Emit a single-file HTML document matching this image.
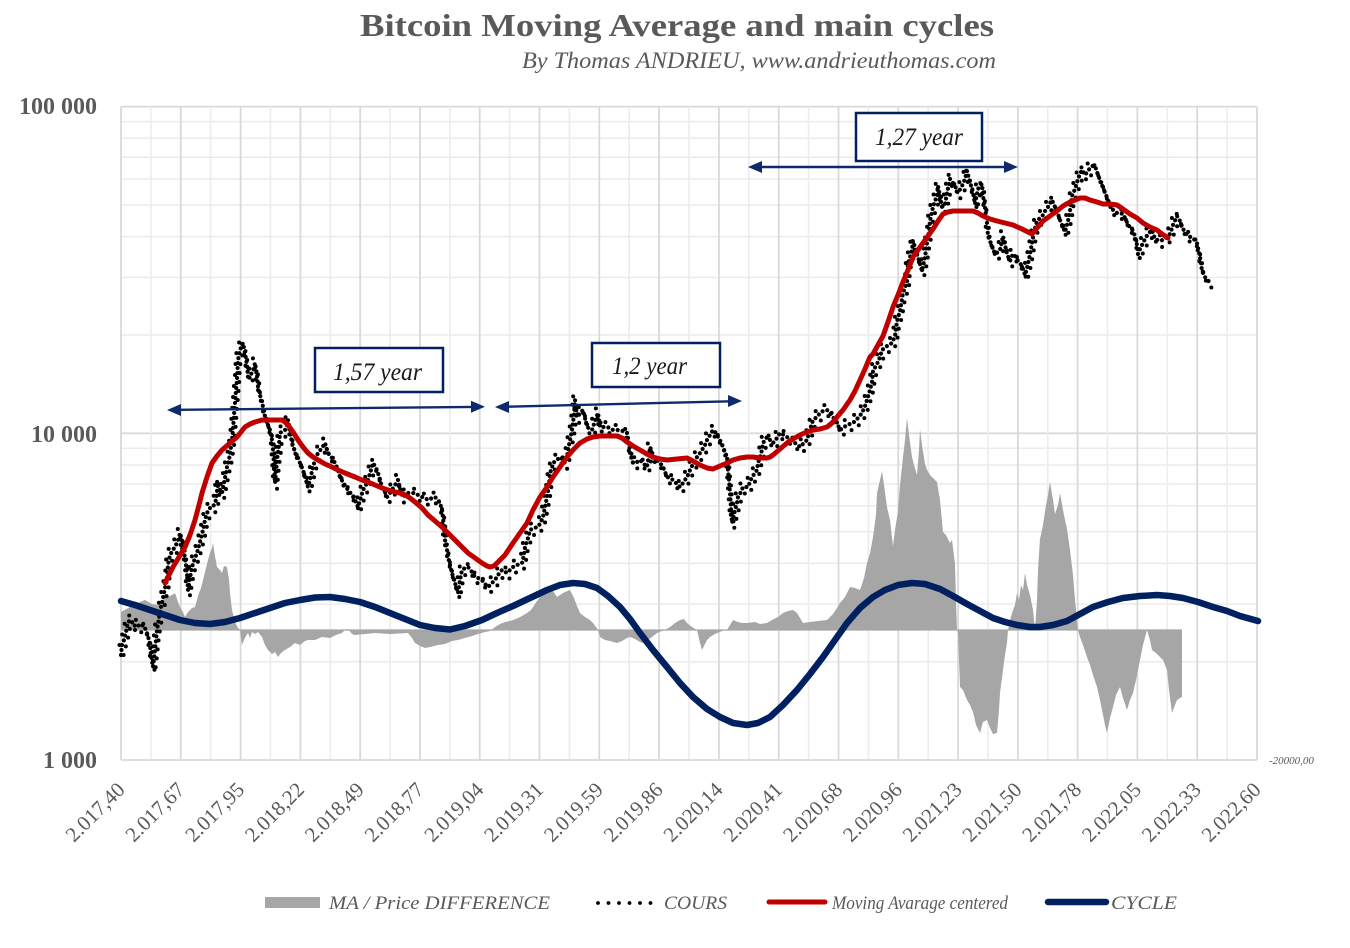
<!DOCTYPE html>
<html><head><meta charset="utf-8"><style>
html,body{margin:0;padding:0;background:#fff;}
svg{display:block;}
text{font-family:"Liberation Serif","DejaVu Serif",serif;}
</style></head><body>
<svg width="1350" height="948" viewBox="0 0 1350 948" xmlns="http://www.w3.org/2000/svg">
<defs>
<polyline id="cours" fill="none" points="121,655 122,645 124,640 126,632 128,622 131,620 134,626 137,624 140,627 143,625 146,630 148,636 150,645 151,655 153,667 155,650 157,630 159,618 161,607 163,598 165,588 167,580 168,565 170,555 173,550 176,545 179,538 180,533 182,540 183,547 185,558 187,573 188,590 190,578 192,567 195,558 197,553 200,542 203,530 205,520 207,513 210,508 213,507 216,500 218,483 220,490 222,493 225,478 227,467 229,460 230,453 232,440 233,430 234,415 235,403 236,390 237,380 238,360 240,350 243,343 245,353 247,365 248,377 250,375 252,373 254,368 255,363 257,375 258,387 260,395 262,403 264,410 265,417 268,425 270,430 272,440 273,450 274,465 275,483 276,472 277,460 279,445 280,433 283,431 285,430 287,425 288,420 290,432 292,443 294,448 295,453 298,458 300,463 303,470 305,477 308,487 310,480 313,467 315,460 318,453 322,448 325,443 328,453 332,458 335,463 338,470 340,477 344,484 348,490 352,495 355,500 358,507 361,497 363,490 366,485 368,480 371,470 373,463 376,468 378,473 380,480 382,487 385,492 387,497 390,493 392,490 395,485 398,480 400,488 402,497 405,495 408,493 412,493 415,493 418,495 422,497 425,498 428,500 432,498 435,497 438,500 440,503 442,510 443,517 444,528 445,540 447,550 448,557 450,565 452,573 454,580 455,583 457,590 458,593 460,580 462,570 465,568 468,567 472,572 475,577 478,578 482,580 485,584 488,587 492,583 495,580 498,575 502,570 507,573 510,570 513,567 517,565 522,563 524,555 525,547 528,538 530,530 534,528 538,527 541,522 543,517 545,507 547,497 549,485 550,473 552,468 553,463 557,460 560,457 563,460 565,463 567,457 568,450 570,440 572,430 574,415 575,400 576,408 577,417 579,415 580,413 582,411 583,410 585,418 587,427 590,429 592,430 595,421 598,413 599,420 600,427 604,427 607,427 610,428 613,430 617,430 620,430 623,431 627,433 629,443 630,453 632,460 633,463 637,462 640,460 643,463 647,467 649,455 650,447 652,452 653,457 657,460 660,463 663,467 665,472 667,477 670,478 673,480 677,484 680,487 683,483 685,480 688,475 690,470 693,464 697,457 700,453 702,450 705,445 707,440 710,435 713,430 716,433 718,437 721,442 723,447 725,452 727,457 728,470 729,480 730,493 731,508 732,523 734,515 735,510 737,503 738,497 741,492 743,487 746,487 748,487 750,482 752,477 755,473 757,470 758,463 760,457 762,450 763,443 765,440 767,437 770,440 773,443 777,438 780,433 784,435 787,437 791,440 795,443 798,445 800,447 804,443 807,440 810,430 813,420 817,417 820,413 823,411 827,410 830,413 833,417 837,423 840,430 847,425 853,423 858,418 862,413 865,406 867,400 870,390 872,382 873,371 877,364 880,357 882,350 887,346 892,343 895,336 897,321 900,311 903,293 907,282 908,264 910,257 912,250 913,241 915,247 917,254 920,264 922,271 925,257 927,243 929,232 930,221 933,207 935,201 937,196 938,186 940,196 942,207 945,204 947,193 950,179 953,183 955,186 958,193 962,186 965,179 967,171 970,182 973,193 975,204 978,189 980,186 982,184 983,196 985,207 987,223 988,236 990,241 992,246 995,254 998,252 1000,250 1003,236 1005,245 1007,254 1010,261 1013,254 1016,257 1018,261 1020,263 1022,266 1025,275 1027,268 1028,264 1030,254 1032,243 1034,232 1037,221 1040,218 1043,215 1045,211 1048,207 1050,203 1052,200 1055,207 1058,214 1060,220 1062,225 1065,232 1068,221 1070,211 1072,196 1075,189 1078,179 1080,174 1082,170 1085,175 1088,171 1090,168 1092,166 1095,166 1098,175 1100,180 1102,184 1105,193 1108,200 1110,205 1112,209 1117,213 1120,213 1123,214 1126,220 1128,225 1132,229 1135,236 1137,245 1138,254 1140,249 1142,245 1145,239 1148,234 1150,232 1152,230 1155,239 1160,241 1165,239 1168,236 1170,234 1173,225 1177,216 1180,221 1183,229 1188,236 1193,238 1197,243 1200,257 1202,271 1205,277 1207,280 1210,282"/>
</defs>
<rect width="1350" height="948" fill="#fff"/>
<!-- title -->
<text x="360" y="36" font-size="32" font-weight="bold" fill="#595959" textLength="634" lengthAdjust="spacingAndGlyphs">Bitcoin Moving Average and main cycles</text>
<text x="522" y="68" font-size="23" font-style="italic" fill="#595959" textLength="474" lengthAdjust="spacingAndGlyphs">By Thomas ANDRIEU, www.andrieuthomas.com</text>

<!-- horizontal grid -->
<g stroke="#ebebeb" stroke-width="1.5">
<line x1="121" x2="1257" y1="661.7" y2="661.7"/><line x1="121" x2="1257" y1="604.1" y2="604.1"/>
<line x1="121" x2="1257" y1="563.3" y2="563.3"/><line x1="121" x2="1257" y1="531.7" y2="531.7"/>
<line x1="121" x2="1257" y1="505.8" y2="505.8"/><line x1="121" x2="1257" y1="483.9" y2="483.9"/>
<line x1="121" x2="1257" y1="465" y2="465"/><line x1="121" x2="1257" y1="448.3" y2="448.3"/>
<line x1="121" x2="1257" y1="335" y2="335"/><line x1="121" x2="1257" y1="277.4" y2="277.4"/>
<line x1="121" x2="1257" y1="236.6" y2="236.6"/><line x1="121" x2="1257" y1="205" y2="205"/>
<line x1="121" x2="1257" y1="179.1" y2="179.1"/><line x1="121" x2="1257" y1="157.2" y2="157.2"/>
<line x1="121" x2="1257" y1="138.3" y2="138.3"/><line x1="121" x2="1257" y1="121.6" y2="121.6"/>
</g>
<g stroke="#dadada" stroke-width="1.8">
<line x1="121" x2="1257" y1="433.3" y2="433.3"/>
<line x1="121" x2="1257" y1="106.6" y2="106.6"/>
</g>
<!-- vertical minor grid -->
<g stroke="#ececec" stroke-width="1.6">
<line y1="106.6" y2="760" x1="150.9" x2="150.9"/><line y1="106.6" y2="760" x1="210.7" x2="210.7"/>
<line y1="106.6" y2="760" x1="270.5" x2="270.5"/><line y1="106.6" y2="760" x1="330.3" x2="330.3"/>
<line y1="106.6" y2="760" x1="390.1" x2="390.1"/><line y1="106.6" y2="760" x1="449.9" x2="449.9"/>
<line y1="106.6" y2="760" x1="509.6" x2="509.6"/><line y1="106.6" y2="760" x1="569.4" x2="569.4"/>
<line y1="106.6" y2="760" x1="629.2" x2="629.2"/><line y1="106.6" y2="760" x1="689" x2="689"/>
<line y1="106.6" y2="760" x1="748.8" x2="748.8"/><line y1="106.6" y2="760" x1="808.6" x2="808.6"/>
<line y1="106.6" y2="760" x1="868.4" x2="868.4"/><line y1="106.6" y2="760" x1="928.2" x2="928.2"/>
<line y1="106.6" y2="760" x1="988" x2="988"/><line y1="106.6" y2="760" x1="1047.8" x2="1047.8"/>
<line y1="106.6" y2="760" x1="1107.5" x2="1107.5"/><line y1="106.6" y2="760" x1="1167.3" x2="1167.3"/>
<line y1="106.6" y2="760" x1="1227.1" x2="1227.1"/>
</g>
<!-- vertical major grid -->
<g stroke="#d9d9d9" stroke-width="1.8">
<line y1="106.6" y2="760" x1="121" x2="121"/><line y1="106.6" y2="760" x1="180.8" x2="180.8"/>
<line y1="106.6" y2="760" x1="240.6" x2="240.6"/><line y1="106.6" y2="760" x1="300.4" x2="300.4"/>
<line y1="106.6" y2="760" x1="360.2" x2="360.2"/><line y1="106.6" y2="760" x1="420" x2="420"/>
<line y1="106.6" y2="760" x1="479.7" x2="479.7"/><line y1="106.6" y2="760" x1="539.5" x2="539.5"/>
<line y1="106.6" y2="760" x1="599.3" x2="599.3"/><line y1="106.6" y2="760" x1="659.1" x2="659.1"/>
<line y1="106.6" y2="760" x1="718.9" x2="718.9"/><line y1="106.6" y2="760" x1="778.7" x2="778.7"/>
<line y1="106.6" y2="760" x1="838.5" x2="838.5"/><line y1="106.6" y2="760" x1="898.3" x2="898.3"/>
<line y1="106.6" y2="760" x1="958.1" x2="958.1"/><line y1="106.6" y2="760" x1="1017.9" x2="1017.9"/>
<line y1="106.6" y2="760" x1="1077.6" x2="1077.6"/><line y1="106.6" y2="760" x1="1137.4" x2="1137.4"/>
<line y1="106.6" y2="760" x1="1197.2" x2="1197.2"/><line y1="106.6" y2="760" x1="1257" x2="1257"/>
<line x1="121" x2="1257" y1="760" y2="760"/>
</g>

<!-- y labels -->
<g font-size="24" font-weight="bold" fill="#595959" text-anchor="end">
<text x="97" y="114">100 000</text>
<text x="97" y="442">10 000</text>
<text x="97" y="768">1 000</text>
</g>
<text x="1269" y="764" font-size="11" font-style="italic" fill="#595959">-20000,00</text>

<!-- x labels -->
<g font-size="21" fill="#595959" text-anchor="end">
<text transform="translate(126,791) rotate(-45)">2.017,40</text>
<text transform="translate(185.8,791) rotate(-45)">2.017,67</text>
<text transform="translate(245.6,791) rotate(-45)">2.017,95</text>
<text transform="translate(305.4,791) rotate(-45)">2.018,22</text>
<text transform="translate(365.2,791) rotate(-45)">2.018,49</text>
<text transform="translate(425,791) rotate(-45)">2.018,77</text>
<text transform="translate(484.7,791) rotate(-45)">2.019,04</text>
<text transform="translate(544.5,791) rotate(-45)">2.019,31</text>
<text transform="translate(604.3,791) rotate(-45)">2.019,59</text>
<text transform="translate(664.1,791) rotate(-45)">2.019,86</text>
<text transform="translate(723.9,791) rotate(-45)">2.020,14</text>
<text transform="translate(783.7,791) rotate(-45)">2.020,41</text>
<text transform="translate(843.5,791) rotate(-45)">2.020,68</text>
<text transform="translate(903.3,791) rotate(-45)">2.020,96</text>
<text transform="translate(963.1,791) rotate(-45)">2.021,23</text>
<text transform="translate(1022.9,791) rotate(-45)">2.021,50</text>
<text transform="translate(1082.6,791) rotate(-45)">2.021,78</text>
<text transform="translate(1142.4,791) rotate(-45)">2.022,05</text>
<text transform="translate(1202.2,791) rotate(-45)">2.022,33</text>
<text transform="translate(1262,791) rotate(-45)">2.022,60</text>
</g>

<!-- MA / Price difference area -->
<line x1="121" x2="1182" y1="630" y2="630" stroke="#b5b5b5" stroke-width="1.5"/>
<polygon fill="#a6a6a6" points="121,630 121,612 130,607 140,602 145,600 152,604 158,605 165,598 172,595 175,593 178,602 180,607 183,612 185,617 188,612 192,608 195,607 198,596 201,588 203,580 206,568 208,560 210,553 212,548 213,543 215,556 217,567 220,570 222,573 224,566 227,567 229,580 230,593 232,610 235,622 238,628 240,630 242,645 244,640 246,636 248,633 250,638 252,632 255,634 258,632 262,637 265,645 268,650 272,654 275,652 278,657 281,653 285,650 290,647 295,643 300,645 305,641 308,640 315,640 322,637 330,638 336,635 342,633 345,630 348,629 352,634 355,635 365,634 375,633 390,634 408,633 412,638 415,643 420,646 425,648 430,647 438,645 445,644 452,641 458,640 465,638 472,636 478,634 485,632 490,631 495,627 500,624 505,622 510,621 513,620 518,618 522,616 527,613 531,610 535,604 540,597 544,594 547,590 550,587 553,591 557,597 560,595 565,592 570,590 574,598 577,606 580,613 585,617 590,620 593,623 598,630 600,637 605,640 610,641 617,643 622,641 627,638 630,637 635,639 640,642 643,643 648,640 652,637 657,633 662,631 665,630 670,627 675,623 680,620 684,619 687,623 692,627 697,630 700,643 702,650 704,646 707,640 710,637 715,634 722,631 727,630 730,625 733,620 738,622 742,623 747,623 755,622 760,624 767,623 772,620 778,617 783,613 788,611 793,610 797,613 800,618 803,623 810,622 818,621 827,620 833,614 837,608 840,603 845,597 850,587 855,588 860,590 864,578 867,563 870,553 873,537 876,515 877,493 880,480 882,471 884,485 887,507 890,520 893,546 895,530 898,511 900,485 903,457 905,440 907,418 909,435 912,457 914,465 917,475 919,450 920,429 922,445 925,464 927,470 930,475 933,478 937,482 940,500 943,532 946,535 950,543 952,540 955,564 956,600 957,630 958,632 959,660 960,687 963,690 967,700 970,705 973,712 976,725 980,733 983,722 987,720 990,728 993,734 997,733 999,710 1000,693 1003,670 1005,655 1007,643 1008,630 1010,620 1013,610 1015,605 1017,593 1019,600 1021,585 1023,590 1025,573 1027,585 1030,595 1033,610 1035,630 1037,600 1038,570 1040,539 1043,525 1046,505 1048,495 1050,482 1053,500 1055,514 1058,505 1060,493 1063,510 1065,520 1067,529 1070,550 1073,575 1075,600 1077,620 1078,630 1080,637 1083,645 1087,657 1090,665 1093,675 1097,687 1100,700 1103,715 1105,725 1107,733 1110,718 1113,707 1116,695 1120,687 1123,698 1127,710 1130,700 1133,693 1136,680 1140,660 1143,645 1147,630 1150,640 1152,650 1156,653 1160,657 1163,660 1167,670 1169,690 1172,713 1175,705 1177,700 1180,698 1182,697 1182,630"/>

<!-- COURS dotted (scatter cloud) -->
<g stroke="#000" stroke-linecap="round">
<use href="#cours" stroke-width="4.2" stroke-dasharray="0 5"/>
<use href="#cours" stroke-width="4" stroke-dasharray="0 9" stroke-dashoffset="3" transform="translate(2,6)"/>
<use href="#cours" stroke-width="4" stroke-dasharray="0 11" stroke-dashoffset="6" transform="translate(-2,-5)"/>
</g>

<!-- Moving average -->
<polyline fill="none" stroke="#c00000" stroke-width="5" stroke-linejoin="round" stroke-linecap="round" points="165,583 169,575 173,567 179,557 185,547 190,535 195,520 199,505 202,493 207,477 212,463 217,456 222,450 230,443 237,437 241,432 245,427 250,424 255,422 262,420 268,420 275,420 282,420 285,422 288,425 293,432 298,440 303,447 308,453 313,457 318,460 325,464 332,467 338,470 345,473 350,475 355,477 362,480 368,482 375,485 382,488 388,490 395,492 400,493 405,495 410,498 415,502 422,508 428,515 435,521 442,527 448,533 455,540 462,547 468,553 475,558 482,563 487,566 490,567 494,566 498,562 505,555 513,543 520,533 527,523 533,510 540,497 547,487 553,477 560,467 567,457 573,450 580,443 587,439 593,437 600,436 607,436 612,436 617,436 622,438 627,442 633,446 640,450 647,454 653,457 660,459 667,460 677,459 687,458 693,461 700,465 707,468 713,469 720,466 727,463 733,460 740,458 747,457 753,457 760,458 767,458 770,457 773,455 780,449 787,443 793,439 800,435 807,432 813,430 820,429 827,427 832,423 837,417 843,410 850,400 855,391 860,380 865,369 870,357 873,354 878,345 883,336 888,322 893,307 898,295 903,282 908,270 913,257 918,250 923,243 928,236 933,229 938,221 943,214 948,212 953,211 963,211 973,211 978,213 983,216 990,219 997,221 1005,223 1013,225 1022,229 1032,234 1037,228 1043,221 1050,216 1057,211 1063,206 1070,202 1075,200 1080,198 1085,198 1090,200 1097,202 1103,204 1110,204 1117,205 1123,209 1130,214 1137,218 1143,223 1150,227 1157,230 1162,234 1168,238"/>

<!-- Cycle -->
<polyline fill="none" stroke="#002060" stroke-width="6.5" stroke-linejoin="round" stroke-linecap="round" points="121,601 135,605 150,610 165,615 180,620 195,623 210,624 225,622 240,618 255,613 270,608 285,603 300,600 315,597.5 330,597 345,599 360,602 375,607 390,613 405,619 420,625 435,628 450,629.5 465,626 482,620 497,613 513,606 530,598 547,590 560,585 573,583 585,584 597,588 608,596 620,607 630,619 640,633 653,650 667,667 680,683 693,697 707,709 720,717 733,723 747,725 758,723 770,717 783,705 797,690 810,674 823,657 835,640 847,623 860,608 873,597 885,590 898,585 912,583 925,584 940,589 953,596 967,604 980,611 993,618 1005,622 1017,625 1030,627 1040,627 1053,625 1067,621 1080,614 1093,607 1108,602 1123,598 1140,596 1157,595 1170,596 1183,598 1198,602 1213,607 1227,611 1240,616 1258,621"/>

<!-- arrows -->
<g stroke="#0f2a6b" stroke-width="2.4" fill="#0f2a6b">
<line x1="178" y1="409.8" x2="474" y2="406.9"/>
<polygon stroke="none" points="167,410 181,404 181,416"/>
<polygon stroke="none" points="485,406.7 471,400.8 471,412.8"/>
<line x1="506" y1="406.7" x2="731" y2="401.3"/>
<polygon stroke="none" points="495,407 509,401 509,413"/>
<polygon stroke="none" points="742,401 728,395 728,407"/>
<line x1="759" y1="167" x2="1007" y2="167"/>
<polygon stroke="none" points="748,167 762,161 762,173"/>
<polygon stroke="none" points="1018,167 1004,161 1004,173"/>
</g>

<!-- boxes -->
<g fill="#fff" stroke="#002060" stroke-width="2.5">
<rect x="315" y="348" width="128" height="44"/>
<rect x="592" y="343" width="128" height="44"/>
<rect x="856" y="113" width="126" height="48"/>
</g>
<g font-size="25" font-style="italic" fill="#1a1a1a">
<text x="333" y="380" textLength="89" lengthAdjust="spacingAndGlyphs">1,57 year</text>
<text x="612" y="374" textLength="75" lengthAdjust="spacingAndGlyphs">1,2 year</text>
<text x="875" y="145" textLength="88" lengthAdjust="spacingAndGlyphs">1,27 year</text>
</g>

<!-- legend -->
<rect x="265" y="897" width="55" height="11" fill="#a6a6a6"/>
<g font-size="19" font-style="italic" fill="#595959">
<text x="329" y="909" textLength="221" lengthAdjust="spacingAndGlyphs">MA / Price DIFFERENCE</text>
<text x="664" y="909" textLength="63" lengthAdjust="spacingAndGlyphs">COURS</text>
<text x="832" y="909" textLength="176" lengthAdjust="spacingAndGlyphs">Moving Avarage centered</text>
<text x="1111" y="909" textLength="66" lengthAdjust="spacingAndGlyphs">CYCLE</text>
</g>
<g fill="#000">
<circle cx="598" cy="903" r="1.9"/><circle cx="608.5" cy="903" r="1.9"/><circle cx="619" cy="903" r="1.9"/>
<circle cx="629.5" cy="903" r="1.9"/><circle cx="640" cy="903" r="1.9"/><circle cx="650.5" cy="903" r="1.9"/>
</g>
<line x1="769" y1="902" x2="825" y2="902" stroke="#c00000" stroke-width="5" stroke-linecap="round"/>
<line x1="1048" y1="902" x2="1106" y2="902" stroke="#002060" stroke-width="6.5" stroke-linecap="round"/>
</svg>
</body></html>
